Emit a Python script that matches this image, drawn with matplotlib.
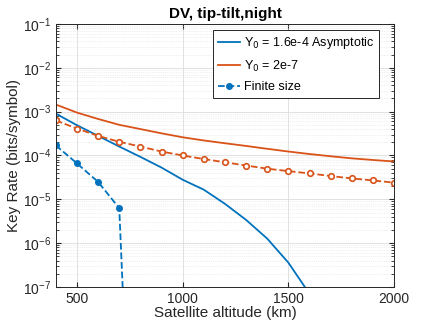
import matplotlib
matplotlib.use("Agg")
import matplotlib.pyplot as plt
import numpy as np

plt.rcParams['font.family'] = ['Liberation Sans', 'DejaVu Sans']

# altitudes (km)
alt = [400, 500, 600, 700, 800, 900, 1000, 1100, 1200, 1300, 1400,
       1500, 1600, 1700, 1800, 1900, 2000]

# asymptotic key rates
asym_blue = [9.0e-4, 4.9e-4, 2.8e-4, 1.6e-4, 9.3e-5, 5.3e-5, 2.8e-5, 1.66e-5,
             7.9e-6, 3.4e-6, 1.27e-6, 3.6e-7, 7e-8, 1e-8, 1e-9, 1e-10, 1e-11]
asym_orange = [1.45e-3, 9.5e-4, 6.8e-4, 5.0e-4, 4.0e-4, 3.2e-4, 2.6e-4, 2.2e-4,
               1.9e-4, 1.65e-4, 1.42e-4, 1.23e-4, 1.08e-4, 9.6e-5, 8.6e-5,
               7.9e-5, 7.3e-5]

# finite size key rates
fin_orange = [6.3e-4, 4.1e-4, 2.8e-4, 2.05e-4, 1.6e-4, 1.23e-4, 1.0e-4, 8.3e-5,
              7.0e-5, 5.9e-5, 5.0e-5, 4.4e-5, 3.9e-5, 3.4e-5, 3.0e-5, 2.7e-5,
              2.4e-5]
fin_blue_alt = [400, 500, 600, 700, 800]
fin_blue = [1.7e-4, 6.6e-5, 2.5e-5, 6.3e-6, 4e-17]

blue = '#0072BD'
orange = '#D95319'

fig = plt.figure(figsize=(4.36, 3.27), dpi=100)
ax = fig.add_axes([0.128, 0.122, 0.776, 0.805])

ax.plot(alt, asym_blue, color=blue, lw=1.3, label='Y$_0$ = 1.6e-4 Asymptotic')
ax.plot(alt, asym_orange, color=orange, lw=1.3, label='Y$_0$ = 2e-7')
ax.plot(fin_blue_alt, fin_blue, '--o', color=blue, lw=1.3, ms=4,
        mfc=blue, mec=blue, label='Finite size')
ax.plot(alt, fin_orange, '--o', color=orange, lw=1.3, ms=4,
        mfc='white', mec=orange, mew=1.2)

ax.set_yscale('log')
ax.set_xlim(400, 2000)
ax.set_ylim(1e-7, 1e-1)
ax.set_xticks([500, 1000, 1500, 2000])
ax.grid(True, which='major', color='#dcdcdc', lw=0.6)
ax.grid(True, which='minor', color='#e0e0e0', lw=0.5, ls=':')
ax.tick_params(which='both', direction='in', top=True, right=True,
               labelsize=10, colors='#262626')
for s in ax.spines.values():
    s.set_color('#262626')
    s.set_linewidth(0.7)

ax.set_xlabel('Satellite altitude (km)', fontsize=11, color='#262626', labelpad=0)
ax.set_ylabel('Key Rate (bits/symbol)', fontsize=11, color='#262626', labelpad=1)
ax.set_title('DV, tip-tilt,night', fontsize=11, fontweight='bold', pad=4)

leg = ax.legend(loc='upper right', bbox_to_anchor=(0.956, 0.977), borderaxespad=0,
                fontsize=9, fancybox=False, framealpha=1, edgecolor='#262626',
                handlelength=1.8, handletextpad=0.3, labelspacing=0.6)
leg.get_frame().set_linewidth(0.7)

fig.savefig('out.png', dpi=100)
